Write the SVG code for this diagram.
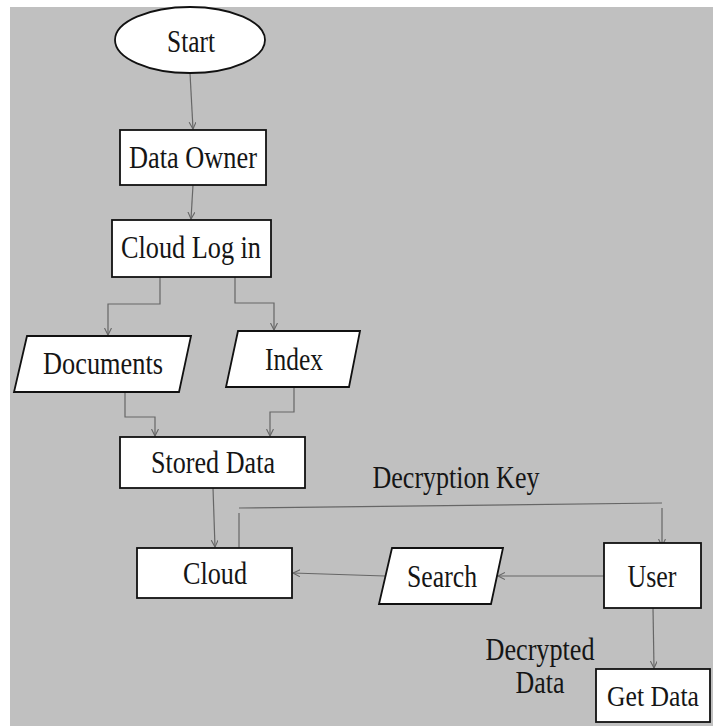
<svg xmlns="http://www.w3.org/2000/svg" width="713" height="726" viewBox="0 0 713 726">
<style>
.node{fill:#fff;stroke:#111;stroke-width:1.8}
.lbl{font-family:"Liberation Serif","Times New Roman",serif;font-size:31px;fill:#151515}
.edge{fill:none;stroke:#666;stroke-width:1.2}
</style>
<defs>
<marker id="arr" markerUnits="userSpaceOnUse" markerWidth="10" markerHeight="10" refX="7" refY="3.5" orient="auto">
<path d="M0,0 L7,3.5 L0,7" fill="none" stroke="#666" stroke-width="1.1"/>
</marker>
</defs>
<rect x="0" y="0" width="713" height="726" fill="#fff"/>
<rect x="10" y="7" width="703" height="719" fill="#c0c0c0"/>

<g id="connectors">
<line class="edge" x1="190" y1="73" x2="193" y2="129" marker-end="url(#arr)"/>
<line class="edge" x1="193" y1="185" x2="191" y2="219" marker-end="url(#arr)"/>
<polyline class="edge" points="160,277 160,304 108,304 108,335" marker-end="url(#arr)"/>
<polyline class="edge" points="235,277 235,303 274,303 274,330" marker-end="url(#arr)"/>
<polyline class="edge" points="125,392 125,417 155,417 155,436" marker-end="url(#arr)"/>
<polyline class="edge" points="294,387 294,412 270,412 270,436" marker-end="url(#arr)"/>
<line class="edge" x1="213" y1="488" x2="215" y2="547" marker-end="url(#arr)"/>
<line class="edge" x1="239" y1="548" x2="239" y2="513"/>
<line class="edge" x1="239" y1="508" x2="662" y2="503"/>
<line class="edge" x1="662" y1="508" x2="662" y2="546" marker-end="url(#arr)"/>
<line class="edge" x1="604" y1="576" x2="498" y2="576" marker-end="url(#arr)"/>
<line class="edge" x1="385" y1="576" x2="293" y2="573" marker-end="url(#arr)"/>
<line class="edge" x1="653" y1="608" x2="654" y2="668" marker-end="url(#arr)"/>
</g>

<g id="start">
<ellipse class="node" cx="190" cy="40" rx="75" ry="33"/>
<text class="lbl" x="191" y="52" text-anchor="middle" textLength="48" lengthAdjust="spacingAndGlyphs">Start</text>
</g>
<g id="data-owner">
<rect class="node" x="120" y="130" width="146" height="55"/>
<text class="lbl" x="193" y="168" text-anchor="middle" textLength="128" lengthAdjust="spacingAndGlyphs">Data Owner</text>
</g>
<g id="cloud-login">
<rect class="node" x="112" y="220" width="159" height="57"/>
<text class="lbl" x="191" y="258" text-anchor="middle" textLength="140" lengthAdjust="spacingAndGlyphs">Cloud Log in</text>
</g>
<g id="documents">
<polygon class="node" points="27,336 191,336 179,392 14,392"/>
<text class="lbl" x="103" y="374" text-anchor="middle" textLength="120" lengthAdjust="spacingAndGlyphs">Documents</text>
</g>
<g id="index">
<polygon class="node" points="238,331 360,331 349,387 226,387"/>
<text class="lbl" x="294" y="370" text-anchor="middle" textLength="58" lengthAdjust="spacingAndGlyphs">Index</text>
</g>
<g id="stored-data">
<rect class="node" x="120" y="437" width="185" height="51"/>
<text class="lbl" x="213" y="473" text-anchor="middle" textLength="124" lengthAdjust="spacingAndGlyphs">Stored Data</text>
</g>
<g id="cloud">
<rect class="node" x="137" y="548" width="155" height="50"/>
<text class="lbl" x="215" y="584" text-anchor="middle" textLength="64" lengthAdjust="spacingAndGlyphs">Cloud</text>
</g>
<g id="search">
<polygon class="node" points="392,548 503,548 491,604 379,604"/>
<text class="lbl" x="442" y="587" text-anchor="middle" textLength="70" lengthAdjust="spacingAndGlyphs">Search</text>
</g>
<g id="user">
<rect class="node" x="604" y="543" width="97" height="65"/>
<text class="lbl" x="652" y="587" text-anchor="middle" textLength="49" lengthAdjust="spacingAndGlyphs">User</text>
</g>
<g id="get-data">
<rect class="node" x="596" y="669" width="114" height="53"/>
<text class="lbl" x="653" y="706" text-anchor="middle" style="font-size:27px" transform="translate(653 706) scale(0.95 1.1) translate(-653 -706)">Get Data</text>
</g>
<g id="edge-labels">
<text class="lbl" x="456" y="488" text-anchor="middle" textLength="167" lengthAdjust="spacingAndGlyphs">Decryption Key</text>
<text class="lbl" x="540" y="660" text-anchor="middle" textLength="109" lengthAdjust="spacingAndGlyphs">Decrypted</text>
<text class="lbl" x="540" y="693" text-anchor="middle" textLength="49" lengthAdjust="spacingAndGlyphs">Data</text>
</g>
</svg>
